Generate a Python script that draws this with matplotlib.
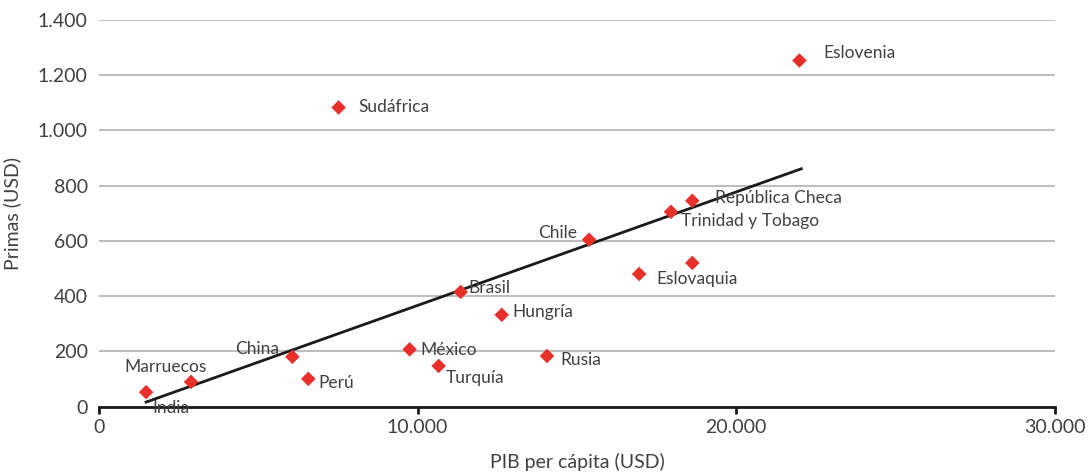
import matplotlib.pyplot as plt
from matplotlib.ticker import FuncFormatter

plt.rcParams['font.family'] = ['Lato', 'DejaVu Sans']

# datos
paises = ['India', 'Marruecos', 'China', 'Perú', 'Sudáfrica', 'México', 'Turquía',
          'Brasil', 'Hungría', 'Rusia', 'Chile', 'Eslovaquia', 'Trinidad y Tobago',
          'República Checa', '', 'Eslovenia']
pib = [1480, 2890, 6070, 6570, 7520, 9750, 10660, 11350, 12640, 14060, 15380,
       16950, 17950, 18620, 18620, 21980]
primas = [52, 89, 180, 100, 1083, 207, 147, 415, 332, 183, 604, 480, 705, 745, 520, 1253]

# linea de tendencia
trend_x = [1480, 22040]
trend_y = [16, 861]

# desplazamiento de etiquetas en pixeles (dx, dy, ha)
offsets = {
    'India': (6, -16, 'left'),
    'Marruecos': (-25, 15, 'center'),
    'China': (-13, 8, 'right'),
    'Perú': (10, -4, 'left'),
    'Sudáfrica': (20, 0, 'left'),
    'México': (11, -1, 'left'),
    'Turquía': (7, -12, 'left'),
    'Brasil': (8, 4, 'left'),
    'Hungría': (11, 3, 'left'),
    'Rusia': (13, -4, 'left'),
    'Chile': (-12, 7, 'right'),
    'Eslovaquia': (17, -5, 'left'),
    'Trinidad y Tobago': (10, -9, 'left'),
    'República Checa': (23, 3, 'left'),
    'Eslovenia': (24, 8, 'left'),
}

txt = '#404040'
fig = plt.figure(figsize=(10.91, 4.75), dpi=100)
ax = fig.add_axes([0.0907, 0.1442, 0.967 - 0.0907, 0.958 - 0.1442])

ax.plot(trend_x, trend_y, color='#1a1a1a', lw=2, zorder=2)
ax.scatter(pib, primas, marker='D', s=55, color='#e8302a', edgecolors='none', zorder=3)

for p, x, y in zip(paises, pib, primas):
    if not p:
        continue
    dx, dy, ha = offsets[p]
    ax.annotate(p, (x, y), xytext=(dx * 0.72, dy * 0.72), textcoords='offset points',
                ha=ha, va='center', fontsize=12.5, color=txt, zorder=4)

ax.set_xlim(0, 30000)
ax.set_ylim(0, 1400)
ax.set_xticks([0, 10000, 20000, 30000])
ax.set_yticks(range(0, 1401, 200))
fmt = FuncFormatter(lambda v, pos: f'{int(v):,}'.replace(',', '.'))
ax.xaxis.set_major_formatter(fmt)
ax.yaxis.set_major_formatter(fmt)

ax.grid(axis='y', color='#bdbdc0', lw=1.5)
ax.set_axisbelow(True)
for s in ['top', 'right', 'left']:
    ax.spines[s].set_visible(False)
ax.spines['bottom'].set_linewidth(2)
ax.spines['bottom'].set_color('#1a1a1a')
ax.tick_params(axis='y', length=0, pad=8, labelsize=14, labelcolor=txt)
ax.tick_params(axis='x', length=5, width=2, color='#1a1a1a', pad=4, labelsize=14, labelcolor=txt)

ax.set_xlabel('PIB per cápita (USD)', fontsize=14, color=txt, labelpad=12)
ax.set_ylabel('Primas (USD)', fontsize=14, color=txt, labelpad=12)

fig.savefig('out.png', dpi=100)
